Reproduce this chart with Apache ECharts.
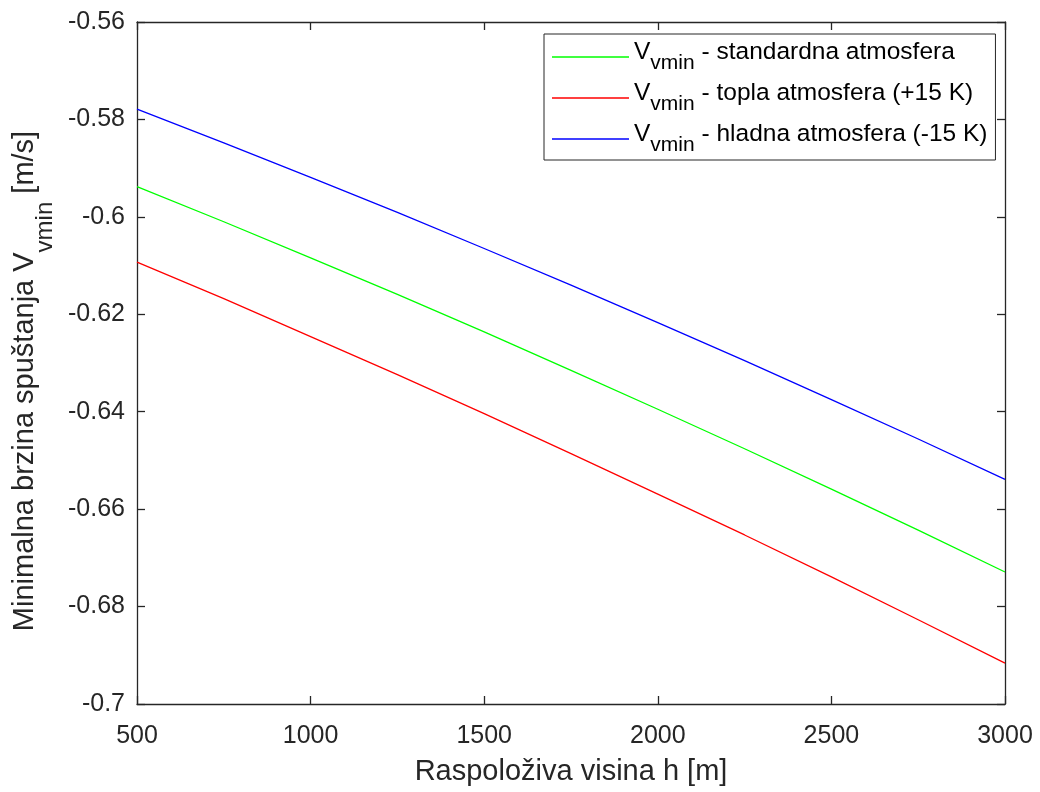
<!DOCTYPE html>
<html><head><meta charset="utf-8">
<script src="https://cdn.jsdelivr.net/npm/echarts@6/dist/echarts.min.js"></script>
<style>html,body{margin:0;padding:0;background:#fff}#c{width:1040px;height:792px}</style>
</head><body><div id="c"></div>
<script>
// ---- data ----
const heights = [500, 750, 1000, 1250, 1500, 1750, 2000, 2250, 2500, 2750, 3000];
const standardna = [-0.5938, -0.6010, -0.6084, -0.6159, -0.6236, -0.6315, -0.6395, -0.6476, -0.6559, -0.6643, -0.6729];
const topla      = [-0.6093, -0.6168, -0.6246, -0.6324, -0.6404, -0.6486, -0.6569, -0.6653, -0.6739, -0.6827, -0.6916];
const hladna     = [-0.5779, -0.5848, -0.5919, -0.5991, -0.6065, -0.6140, -0.6217, -0.6295, -0.6375, -0.6456, -0.6539];
const seriesNames = ['standardna atmosfera', 'topla atmosfera (+15 K)', 'hladna atmosfera (-15 K)'];
const xTickValues = [500, 1000, 1500, 2000, 2500, 3000];
const yTickValues = [-0.7, -0.68, -0.66, -0.64, -0.62, -0.6, -0.58, -0.56];
const xTitle = 'Raspoloživa visina h [m]';
const yTitleMain = 'Minimalna brzina spuštanja V';
const yTitleSub = 'vmin';
const yTitleEnd = ' [m/s]';

// ---- chart ----
const FONT = '"Liberation Sans", Arial, Helvetica, sans-serif';
const AX = '#262626';
const pairs = v => heights.map((h, i) => [h, v[i]]);
const xMin = xTickValues[0], xMax = xTickValues[xTickValues.length - 1], xInt = xTickValues[1] - xTickValues[0];
const yMin = yTickValues[0], yMax = yTickValues[yTickValues.length - 1], yInt = 0.02;

function axisBase(show, margin) {
  return {
    axisLine: {show: true, onZero: false, lineStyle: {color: AX, width: 1.3}},
    axisTick: {show: true, inside: true, length: 8, lineStyle: {color: AX, width: 1.3}},
    splitLine: {show: false},
    axisLabel: show ? {show: true, margin: margin, fontSize: 25, color: AX, fontFamily: FONT,
                       formatter: v => String(+v.toFixed(4))} : {show: false}
  };
}

const chart = echarts.init(document.getElementById('c'), null, {renderer: 'canvas'});
const option = {
  animation: false,
  backgroundColor: '#fff',
  color: ['#00ff00', '#ff0000', '#0000ff'],
  textStyle: {fontFamily: FONT},
  grid: {left: 137, top: 22, right: 35, bottom: 88, containLabel: false, outerBoundsMode: 'none'},
  xAxis: [
    Object.assign(axisBase(true, 19.5), {
      type: 'value', position: 'bottom', min: xMin, max: xMax, interval: xInt,
      name: xTitle, nameLocation: 'middle', nameGap: 53,
      nameTextStyle: {fontSize: 29, color: AX, fontFamily: FONT}
    }),
    Object.assign(axisBase(false), {type: 'value', position: 'top', min: xMin, max: xMax, interval: xInt})
  ],
  yAxis: [
    Object.assign(axisBase(true, 12), {
      type: 'value', position: 'left', min: yMin, max: yMax, interval: yInt,
      name: '{a|' + yTitleMain + '}{s|' + yTitleSub + '}{a|' + yTitleEnd + '}',
      nameLocation: 'middle', nameGap: 80,
      nameTextStyle: {
        color: AX, fontFamily: FONT, fontSize: 29,
        padding: [0, 36, 0, 0],
        rich: {
          a: {fontSize: 29, fontFamily: FONT, color: AX, verticalAlign: 'top'},
          s: {fontSize: 24, fontFamily: FONT, color: AX, verticalAlign: 'top', padding: [23, 0, 0, 0]}
        }
      }
    }),
    Object.assign(axisBase(false), {type: 'value', position: 'right', min: yMin, max: yMax, interval: yInt})
  ],
  legend: {
    orient: 'vertical', left: 544, top: 34,
    padding: [6, 8, 4, 8],
    itemGap: 7, itemWidth: 77, itemHeight: 14,
    icon: 'path://M0,0H77V1.3H0Z',
    backgroundColor: '#fff', borderColor: AX, borderWidth: 1, borderRadius: 0,
    data: seriesNames,
    formatter: n => '{a|V}{s|vmin}{a| - ' + n + '}',
    textStyle: {
      fontFamily: FONT, color: '#000',
      rich: {
        a: {fontSize: 24.5, fontFamily: FONT, color: '#000', verticalAlign: 'top'},
        s: {fontSize: 21, fontFamily: FONT, color: '#000', verticalAlign: 'top', padding: [13, 0, 0, 0]}
      }
    }
  },
  series: [
    {name: seriesNames[0], type: 'line', data: pairs(standardna), symbol: 'none', lineStyle: {width: 1.3}},
    {name: seriesNames[1], type: 'line', data: pairs(topla), symbol: 'none', lineStyle: {width: 1.3}},
    {name: seriesNames[2], type: 'line', data: pairs(hladna), symbol: 'none', lineStyle: {width: 1.3}}
  ]
};
chart.setOption(option);
</script>
</body></html>
